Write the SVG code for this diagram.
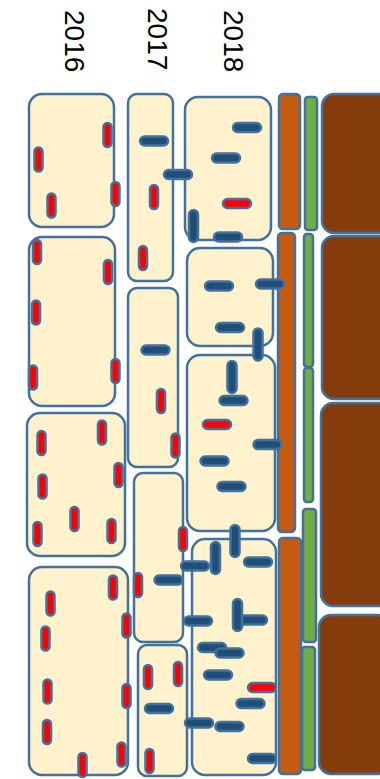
<svg xmlns="http://www.w3.org/2000/svg" xmlns:xlink="http://www.w3.org/1999/xlink" width="380" height="779" viewBox="0 0 380 779">
<style>
.cell{fill:#FFF2CC;stroke:#41719C;stroke-width:2.5}
.org{fill:#C55A11;stroke:#41719C;stroke-width:2.5}
.grn{fill:#70AD47;stroke:#41719C;stroke-width:2.5}
.brn{fill:#843C0C;stroke:#41719C;stroke-width:2.5}
.red{fill:#FF0000;stroke:#41719C;stroke-width:2.5}
.blu{fill:#1F4E79;stroke:#41719C;stroke-width:2.5}
.yr{font-family:"Liberation Sans",Arial,sans-serif;font-size:28px;fill:#000}
</style>
<defs>
<rect id="rv" class="red" x="-4" y="-12" width="8" height="24" rx="4"/>
<rect id="rh" class="red" x="-14" y="-4.5" width="28" height="9" rx="4.5"/>
<rect id="bh" class="blu" x="-14" y="-4.5" width="28" height="9" rx="4.5"/>
<rect id="bv" class="blu" x="-4.5" y="-16" width="9" height="32" rx="4.5"/>
</defs>
<g id="labels">
<text class="yr" transform="translate(59,10) rotate(90)" dominant-baseline="text-after-edge">2016</text>
<text class="yr" transform="translate(142,8) rotate(90)" dominant-baseline="text-after-edge">2017</text>
<text class="yr" transform="translate(218,10) rotate(90)" dominant-baseline="text-after-edge">2018</text>
</g>
<g id="bars">
<rect class="brn" x="322" y="94" width="70" height="139" rx="12"/>
<rect class="brn" x="322" y="236" width="70" height="163" rx="12"/>
<rect class="brn" x="321" y="403" width="70" height="203" rx="12"/>
<rect class="brn" x="319" y="615" width="70" height="159" rx="12"/>
<rect class="org" x="279" y="94" width="21" height="135" rx="4"/>
<rect class="org" x="278" y="233" width="17" height="299" rx="4"/>
<rect class="org" x="279" y="538" width="22" height="236" rx="4"/>
<rect class="grn" x="305" y="97" width="12" height="133" rx="3"/>
<rect class="grn" x="304" y="234" width="9" height="133" rx="3"/>
<rect class="grn" x="304" y="368" width="9" height="134" rx="3"/>
<rect class="grn" x="303" y="509" width="13" height="133" rx="3"/>
<rect class="grn" x="302" y="647" width="13" height="123" rx="3"/>
</g>
<g id="cells">
<rect id="c2016a" class="cell" x="29" y="94" width="85" height="133" rx="13"/>
<rect id="c2016b" class="cell" x="29" y="237" width="86" height="169" rx="13"/>
<rect id="c2016c" class="cell" x="27" y="413" width="98" height="143" rx="13"/>
<rect id="c2016d" class="cell" x="29" y="567" width="99" height="208" rx="13"/>
<rect id="c2017a" class="cell" x="128" y="94" width="45" height="187" rx="9"/>
<rect id="c2017b" class="cell" x="128" y="288" width="50" height="179" rx="9"/>
<rect id="c2017c" class="cell" x="134" y="473" width="49" height="169" rx="9"/>
<rect id="c2017d" class="cell" x="138" y="645" width="49" height="131" rx="9"/>
<rect id="c2018a" class="cell" x="185" y="97" width="86" height="143" rx="13"/>
<rect id="c2018b" class="cell" x="187" y="248" width="86" height="98" rx="13"/>
<rect id="c2018c" class="cell" x="187" y="355" width="88" height="176" rx="13"/>
<rect id="c2018d" class="cell" x="192" y="539" width="84" height="236" rx="13"/>
</g>
<g id="marks">
<use href="#rv" x="107.5" y="135"/><use href="#rv" x="38.5" y="159.5"/><use href="#rv" x="115.5" y="194"/><use href="#rv" x="51.5" y="205.5"/>
<use href="#rv" x="37" y="252"/><use href="#rv" x="108" y="272"/><use href="#rv" x="36" y="312.5"/><use href="#rv" x="33" y="377.5"/><use href="#rv" x="115.5" y="371"/>
<use href="#rv" x="102" y="432.5"/><use href="#rv" x="41.5" y="443"/><use href="#rv" x="118.5" y="475"/><use href="#rv" x="42.5" y="486.5"/><use href="#rv" x="74.5" y="519"/><use href="#rv" x="37.5" y="534"/><use href="#rv" x="111.5" y="531"/>
<use href="#rv" x="113" y="587.5"/><use href="#rv" x="50.5" y="603.5"/><use href="#rv" x="126.5" y="625.5"/><use href="#rv" x="45.5" y="638.5"/><use href="#rv" x="47.5" y="691.5"/><use href="#rv" x="126.5" y="696"/><use href="#rv" x="47" y="732"/><use href="#rv" x="121.5" y="754.5"/><use href="#rv" x="82.5" y="765"/>
<use href="#bh" x="154" y="141"/><use href="#bh" x="178" y="174.5"/><use href="#rv" x="154" y="197"/><use href="#rv" x="143" y="258"/>
<use href="#bh" x="155.5" y="350"/><use href="#rv" x="161" y="401"/><use href="#rv" x="175.5" y="445.5"/>
<use href="#rv" x="183" y="539"/><use href="#bh" x="195" y="566"/><use href="#bh" x="168.5" y="580"/><use href="#rv" x="138" y="585"/>
<use href="#rv" x="148" y="677"/><use href="#rv" x="178" y="674"/><use href="#bh" x="159" y="708.5"/><use href="#rv" x="149.5" y="761"/>
<use href="#bh" x="247" y="127.5"/><use href="#bh" x="226" y="158"/><use href="#rh" x="237" y="203.5"/><use href="#bv" x="193.5" y="226"/><use href="#bh" x="228" y="237"/>
<use href="#bh" x="219" y="286"/><use href="#bh" x="270" y="284"/><use href="#bh" x="230" y="327.5"/><use href="#bv" x="258" y="344.5"/>
<use href="#bv" x="232" y="377"/><use href="#bh" x="233.5" y="400.5"/><use href="#rh" x="217" y="424.5"/><use href="#bh" x="267.5" y="444.5"/><use href="#bh" x="214.5" y="461"/><use href="#bh" x="231.5" y="486.5"/><use href="#bv" x="235" y="541"/>
<use href="#bv" x="215.5" y="558"/><use href="#bh" x="258" y="562"/><use href="#bh" x="253" y="620"/><use href="#bv" x="237.5" y="615"/><use href="#bh" x="198" y="621"/><use href="#bh" x="212" y="647.5"/><use href="#bh" x="229.5" y="653"/><use href="#bh" x="218" y="675"/><use href="#rh" x="262" y="687.5"/><use href="#bh" x="250.5" y="703.5"/><use href="#bh" x="199" y="723"/><use href="#bh" x="229.5" y="726.5"/><use href="#bh" x="262" y="758.5"/>
</g>
</svg>
